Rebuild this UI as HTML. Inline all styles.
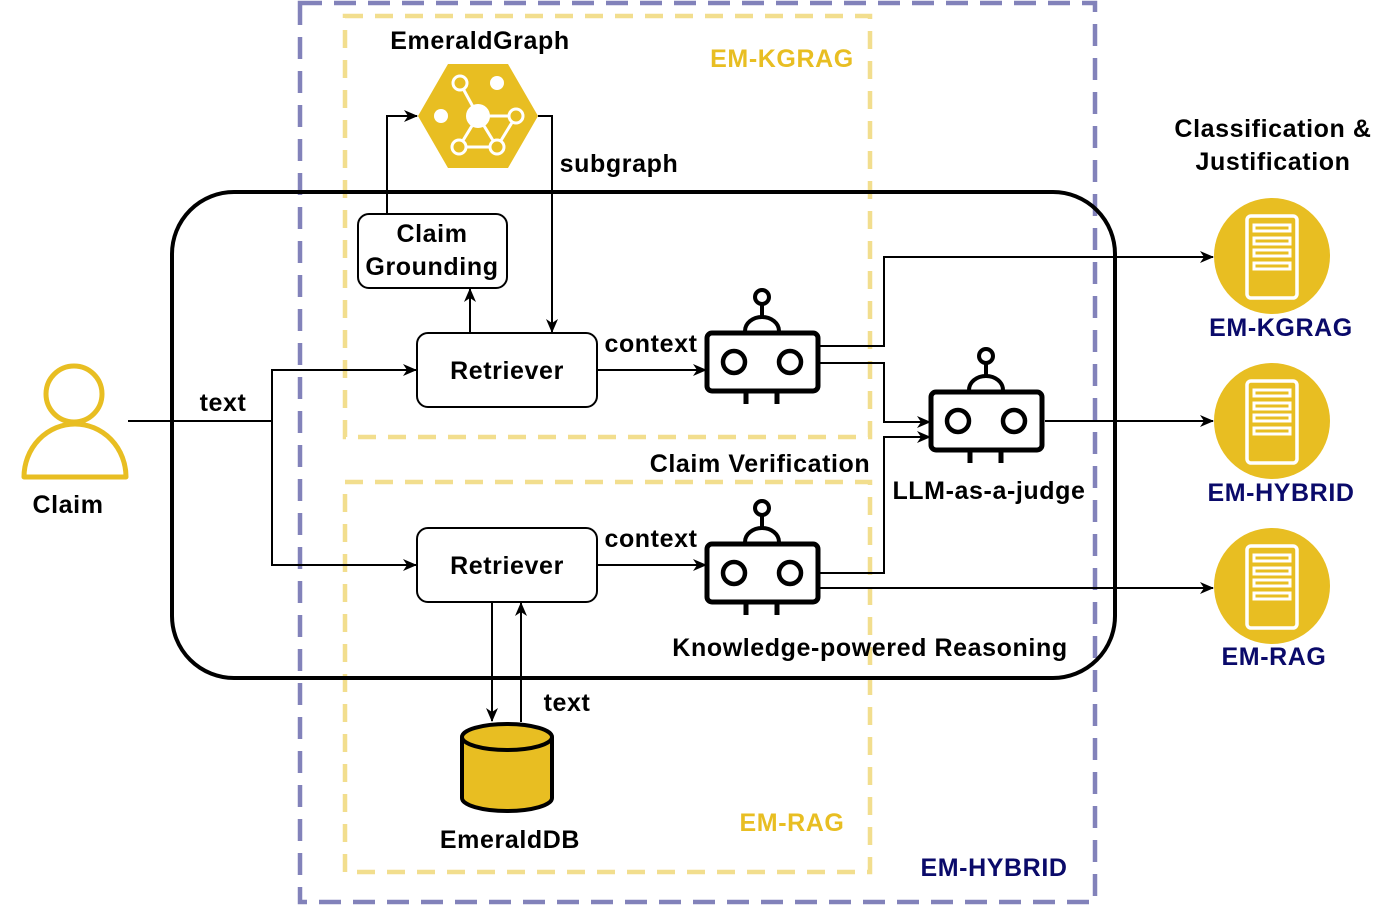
<!DOCTYPE html>
<html><head><meta charset="utf-8"><style>body{margin:0;background:#fff}svg{display:block}text{font-family:"Liberation Sans",Arial,sans-serif;font-weight:bold;letter-spacing:0.6px}</style></head><body>
<svg width="1381" height="908" viewBox="0 0 1381 908" xmlns="http://www.w3.org/2000/svg">
<defs>
<marker id="a" markerWidth="14" markerHeight="12" refX="13" refY="6" orient="auto" markerUnits="userSpaceOnUse"><path d="M0,0 L14,6 L0,12 L4,6 Z" fill="#000"/></marker>
<g id="robot">
<circle cx="57" cy="-36" r="7" fill="none" stroke="#000" stroke-width="4"/>
<line x1="57" y1="-29" x2="57" y2="-15" stroke="#000" stroke-width="4"/>
<path d="M40,-2 A17,14 0 0 1 74,-2" fill="none" stroke="#000" stroke-width="4"/>
<rect x="2" y="0" width="111" height="58" rx="5" fill="#fff" stroke="#000" stroke-width="5"/>
<circle cx="29" cy="29" r="11" fill="none" stroke="#000" stroke-width="4.5"/>
<circle cx="85" cy="29" r="11" fill="none" stroke="#000" stroke-width="4.5"/>
<line x1="41" y1="58" x2="41" y2="71" stroke="#000" stroke-width="5"/>
<line x1="72" y1="58" x2="72" y2="71" stroke="#000" stroke-width="5"/>
</g>
<g id="srv">
<circle cx="0" cy="0" r="58" fill="#E8BE22"/>
<rect x="-25" y="-40" width="50" height="82" rx="4" fill="none" stroke="#fff" stroke-width="3.5"/>
<rect x="-18" y="-31" width="36" height="6" fill="none" stroke="#fff" stroke-width="3"/>
<rect x="-18" y="-18" width="36" height="6" fill="none" stroke="#fff" stroke-width="3"/>
<rect x="-18" y="-6" width="36" height="6" fill="none" stroke="#fff" stroke-width="3"/>
<rect x="-18" y="7" width="36" height="6" fill="none" stroke="#fff" stroke-width="3"/>
</g>
</defs>
<rect x="300" y="3" width="795" height="899" fill="none" stroke="#8282BA" stroke-width="4.5" stroke-dasharray="22,12"/>
<rect x="345" y="16" width="525" height="421" fill="none" stroke="#F2DE8E" stroke-width="4.5" stroke-dasharray="18,12"/>
<rect x="345" y="482" width="525" height="390" fill="none" stroke="#F2DE8E" stroke-width="4.5" stroke-dasharray="18,12"/>
<rect x="172" y="192" width="943" height="486" rx="62" fill="none" stroke="#000" stroke-width="4"/>
<g font-size="25">
<text x="480" y="49" text-anchor="middle">EmeraldGraph</text>
<text x="782" y="67" text-anchor="middle" fill="#E8BE22">EM-KGRAG</text>
<text x="792" y="831" text-anchor="middle" fill="#E8BE22">EM-RAG</text>
<text x="994" y="876" text-anchor="middle" fill="#0A0A6A">EM-HYBRID</text>
<text x="619" y="172" text-anchor="middle">subgraph</text>
<text x="760" y="472" text-anchor="middle">Claim Verification</text>
<text x="870" y="656" text-anchor="middle">Knowledge-powered Reasoning</text>
<text x="989" y="499" text-anchor="middle">LLM-as-a-judge</text>
<text x="1273" y="137" text-anchor="middle">Classification &amp;</text>
<text x="1273" y="170" text-anchor="middle">Justification</text>
<text x="651" y="352" text-anchor="middle">context</text>
<text x="651" y="547" text-anchor="middle">context</text>
<text x="223" y="411" text-anchor="middle">text</text>
<text x="567" y="711" text-anchor="middle">text</text>
<text x="68" y="513" text-anchor="middle">Claim</text>
<text x="510" y="848" text-anchor="middle">EmeraldDB</text>
</g>
<polygon points="418,116 448,64 508,64 538,116 508,168 448,168" fill="#E8BE22"/>
<g stroke="#fff" stroke-width="3" fill="none">
<line x1="460" y1="83" x2="478" y2="116"/><line x1="478" y1="116" x2="516" y2="116"/>
<line x1="478" y1="116" x2="497" y2="147"/><line x1="478" y1="116" x2="459" y2="147"/>
<line x1="459" y1="147" x2="497" y2="147"/><line x1="516" y1="116" x2="497" y2="147"/>
<circle cx="460" cy="83" r="7" fill="#E8BE22"/><circle cx="516" cy="116" r="7" fill="#E8BE22"/>
<circle cx="459" cy="147" r="7" fill="#E8BE22"/><circle cx="497" cy="147" r="7" fill="#E8BE22"/>
</g>
<circle cx="478" cy="116" r="12" fill="#fff"/><circle cx="497" cy="83" r="7" fill="#fff"/><circle cx="441" cy="116" r="7" fill="#fff"/>
<circle cx="74" cy="394" r="28" fill="none" stroke="#E8BE22" stroke-width="5"/>
<path d="M24,477 A50,52 0 0 1 126,477 Z" fill="none" stroke="#E8BE22" stroke-width="5" stroke-linejoin="round"/>
<rect x="358" y="214" width="149" height="74" rx="11" fill="#fff" stroke="#000" stroke-width="2"/>
<g font-size="25">
<text x="432" y="242" text-anchor="middle">Claim</text>
<text x="432" y="275" text-anchor="middle">Grounding</text>
</g>
<rect x="417" y="333" width="180" height="74" rx="11" fill="#fff" stroke="#000" stroke-width="2"/>
<text x="507" y="379" font-size="25" text-anchor="middle">Retriever</text>
<rect x="417" y="528" width="180" height="74" rx="11" fill="#fff" stroke="#000" stroke-width="2"/>
<text x="507" y="574" font-size="25" text-anchor="middle">Retriever</text>
<use href="#robot" x="705" y="333"/>
<use href="#robot" x="929" y="392"/>
<use href="#robot" x="705" y="544"/>
<use href="#srv" x="1272" y="256"/>
<use href="#srv" x="1272" y="421"/>
<use href="#srv" x="1272" y="586"/>
<g font-size="25" fill="#0A0A6A">
<text x="1281" y="336" text-anchor="middle">EM-KGRAG</text>
<text x="1281" y="501" text-anchor="middle">EM-HYBRID</text>
<text x="1274" y="665" text-anchor="middle">EM-RAG</text>
</g>
<path d="M462,737 L462,798 A45,13 0 0 0 552,798 L552,737" fill="#E8BE22" stroke="#000" stroke-width="4"/>
<ellipse cx="507" cy="737" rx="45" ry="13" fill="#E8BE22" stroke="#000" stroke-width="4"/>
<g fill="none" stroke="#000" stroke-width="2">
<polyline points="128,421 272,421"/>
<polyline points="272,421 272,370 416,370" marker-end="url(#a)"/>
<polyline points="272,421 272,565 416,565" marker-end="url(#a)"/>
<polyline points="387,214 387,116 417,116" marker-end="url(#a)"/>
<polyline points="538,116 552,116 552,332" marker-end="url(#a)"/>
<polyline points="470,333 470,289" marker-end="url(#a)"/>
<polyline points="597,370 706,370" marker-end="url(#a)"/>
<polyline points="597,565 706,565" marker-end="url(#a)"/>
<polyline points="492,602 492,721" marker-end="url(#a)"/>
<polyline points="521,722 521,603" marker-end="url(#a)"/>
<polyline points="820,346 884,346 884,257 1213,257" marker-end="url(#a)"/>
<polyline points="820,363 884,363 884,422 930,422" marker-end="url(#a)"/>
<polyline points="820,573 884,573 884,437 930,437" marker-end="url(#a)"/>
<polyline points="820,588 1213,588" marker-end="url(#a)"/>
<polyline points="1045,421 1213,421" marker-end="url(#a)"/>
</g>
</svg>
</body></html>
